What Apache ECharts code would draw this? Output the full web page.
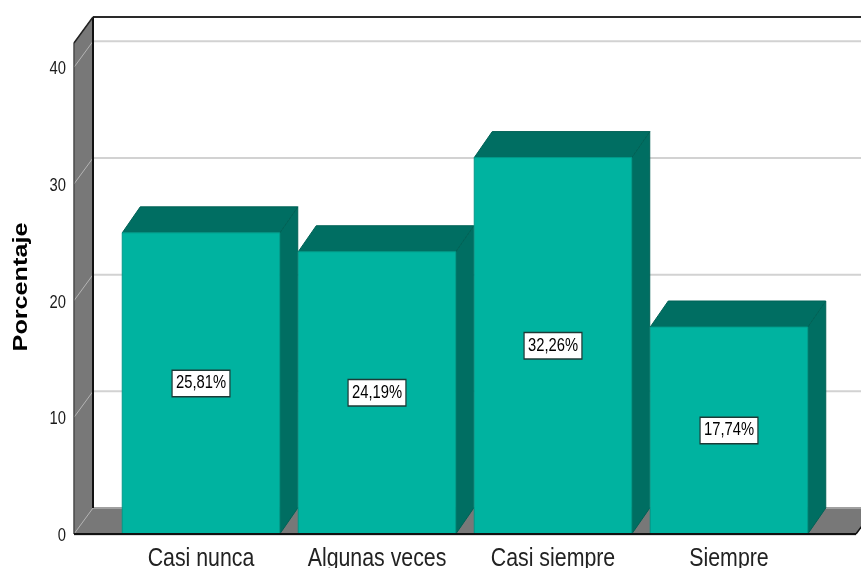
<!DOCTYPE html>
<html>
<head>
<meta charset="utf-8">
<style>
  html, body { margin: 0; padding: 0; background: #fff; }
  #chart { width: 861px; height: 568px; }
</style>
</head>
<body>
<div id="chart"></div>
<script src="https://cdn.jsdelivr.net/npm/echarts@6/dist/echarts.min.js"></script>
<script>
const categories = ['Casi nunca', 'Algunas veces', 'Casi siempre', 'Siempre']
const percentages = [25.81, 24.19, 32.26, 17.74]
const yTicks = [0, 10, 20, 30, 40]
const yName = 'Porcentaje'

const FONT = '"Liberation Sans", sans-serif'
// the reference is a stretched bitmap, its text runs narrow
const NARROW = 0.82
const DEPTH_X = 19
const DEPTH_Y = 26
const BAR_DEPTH_X = 18
const WALL_PAD_LEFT = 39
const WALL_PAD_RIGHT = 39

const chart = echarts.init(document.getElementById('chart'))

const poly = (points, fill, stroke, lineWidth) => ({
  type: 'polygon',
  shape: { points },
  style: { fill, stroke: stroke || fill, lineWidth: lineWidth || 1 }
})

const line = (x1, y1, x2, y2, stroke, lineWidth) => ({
  type: 'line',
  shape: { x1, y1, x2, y2 },
  style: { stroke, lineWidth }
})

// wall and floor
const renderRoom = (params, api) => {
  const cs = params.coordSys
  const bottom = cs.y + cs.height
  const top = cs.y
  const left = cs.x - WALL_PAD_LEFT
  const right = cs.x + cs.width + WALL_PAD_RIGHT
  return {
    type: 'group',
    children: [
      poly([[left, top], [left + DEPTH_X, top - DEPTH_Y], [left + DEPTH_X, bottom - DEPTH_Y], [left, bottom]], '#787878'),
      poly([[left, bottom], [left + DEPTH_X, bottom - DEPTH_Y], [right + DEPTH_X, bottom - DEPTH_Y], [right, bottom]], '#787878')
    ]
  }
}

const renderGridLine = (params, api) => {
  const cs = params.coordSys
  const tick = api.value(1)
  const y = api.coord([0, tick])[1]
  const left = cs.x - WALL_PAD_LEFT
  return {
    type: 'group',
    children: [
      line(left, y, left + DEPTH_X, y - DEPTH_Y, '#b4b4b4', 1),
      line(left + DEPTH_X, y - DEPTH_Y, cs.x + cs.width + WALL_PAD_RIGHT + DEPTH_X, y - DEPTH_Y, tick === 0 ? '#a0a0a0' : '#d2d2d2', 2),
      {
        type: 'text',
        x: left - 8,
        y: y + 2,
        scaleX: NARROW,
        style: {
          text: String(tick),
          font: '18px ' + FONT,
          fill: '#1a1a1a',
          align: 'right',
          verticalAlign: 'middle'
        }
      }
    ]
  }
}

const renderFrame = (params, api) => {
  const cs = params.coordSys
  const bottom = cs.y + cs.height
  const top = cs.y
  const left = cs.x - WALL_PAD_LEFT
  return {
    type: 'group',
    children: [
      line(left + DEPTH_X, top - DEPTH_Y, 900, top - DEPTH_Y, '#2a2a2a', 2),
      line(left + DEPTH_X, top - DEPTH_Y, left + DEPTH_X, bottom - DEPTH_Y, '#111', 2),
      line(left, top, left + DEPTH_X, top - DEPTH_Y, '#222', 1.5),
      line(left, top, left, bottom, '#333', 1)
    ]
  }
}

const renderBar = (params, api) => {
  const cs = params.coordSys
  const center = api.coord([api.value(0), 0])
  const value = api.value(1)
  const topY = api.coord([api.value(0), value])[1]
  const midY = api.coord([api.value(0), value / 2])[1]
  const w = api.size([1, 0])[0] * 0.895
  const x0 = center[0] - w / 2
  const x1 = center[0] + w / 2
  const y0 = center[1]
  return {
    type: 'group',
    children: [
      poly([[x1, y0], [x1 + BAR_DEPTH_X, y0 - DEPTH_Y], [x1 + BAR_DEPTH_X, topY - DEPTH_Y], [x1, topY]], '#006e62', '#006256'),
      poly([[x0, topY], [x0 + BAR_DEPTH_X, topY - DEPTH_Y], [x1 + BAR_DEPTH_X, topY - DEPTH_Y], [x1, topY]], '#006e62', '#006256'),
      poly([[x0, y0], [x0, topY], [x1, topY], [x1, y0]], '#00b3a0', '#009a89'),
      {
        type: 'text',
        x: center[0],
        y: midY,
        z2: 10,
        scaleX: NARROW,
        style: {
          text: value.toFixed(2).replace('.', ',') + '%',
          font: '18px ' + FONT,
          fill: '#000',
          align: 'center',
          verticalAlign: 'middle',
          backgroundColor: '#fff',
          borderColor: '#1c3a36',
          borderWidth: 1.5,
          padding: [4, 4, 3, 4]
        }
      },
      {
        type: 'text',
        x: center[0],
        y: cs.y + cs.height + 25,
        scaleX: NARROW,
        style: {
          text: categories[api.value(0)],
          font: '26px ' + FONT,
          fill: '#222',
          align: 'center',
          verticalAlign: 'middle'
        }
      }
    ]
  }
}

// drawn last so the axis line stays on top of the bars
const renderBase = (params, api) => {
  const cs = params.coordSys
  const bottom = cs.y + cs.height
  const left = cs.x - WALL_PAD_LEFT
  const right = cs.x + cs.width + WALL_PAD_RIGHT
  return {
    type: 'group',
    children: [
      line(left, bottom + 1, right, bottom + 1, '#bbb', 1),
      line(left, bottom, right, bottom, '#111', 2),
      line(right, bottom, right + DEPTH_X, bottom - DEPTH_Y, '#111', 1.5)
    ]
  }
}

const option = {
  animation: false,
  backgroundColor: '#ffffff',
  grid: { left: 113, right: 44, top: 43, bottom: 34 },
  xAxis: {
    type: 'category',
    data: categories,
    axisLine: { show: false },
    axisTick: { show: false },
    axisLabel: { show: false }
  },
  yAxis: {
    type: 'value',
    min: 0,
    max: 42.08,
    interval: 10,
    axisLine: { show: false },
    axisTick: { show: false },
    splitLine: { show: false },
    axisLabel: { show: false }
  },
  graphic: [{
    type: 'text',
    x: 21,
    y: 287,
    rotation: Math.PI / 2,
    scaleX: 1.2,
    style: {
      text: yName,
      font: 'bold 21px ' + FONT,
      fill: '#000',
      align: 'center',
      verticalAlign: 'middle'
    }
  }],
  series: [
    { type: 'custom', silent: true, renderItem: renderRoom, encode: { x: 0, y: 1 }, data: [[0, 0]], z: 1 },
    { type: 'custom', silent: true, renderItem: renderGridLine, encode: { x: 0, y: 1 }, data: yTicks.map(v => [0, v]), z: 2 },
    { type: 'custom', silent: true, renderItem: renderFrame, encode: { x: 0, y: 1 }, data: [[0, 0]], z: 3 },
    { type: 'custom', silent: true, renderItem: renderBar, encode: { x: 0, y: 1 }, data: categories.map((c, i) => [i, percentages[i]]), z: 4 },
    { type: 'custom', silent: true, renderItem: renderBase, encode: { x: 0, y: 1 }, data: [[0, 0]], z: 5 }
  ]
}

chart.setOption(option)
</script>
</body>
</html>
